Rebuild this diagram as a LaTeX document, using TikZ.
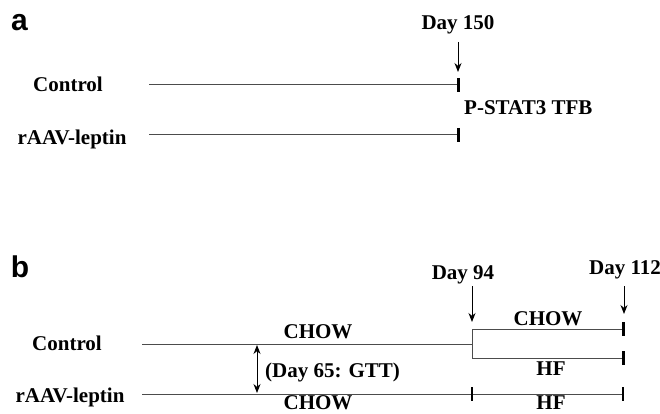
\documentclass[tikz,border=0pt]{standalone}
\usepackage{fontspec}
\setmainfont{Liberation Serif}
\setsansfont{Liberation Sans}
\usetikzlibrary{arrows.meta}
\begin{document}
\begin{tikzpicture}[x=1pt,y=-1pt,line join=round,
	txt/.style={font=\fontsize{21}{24}\selectfont\bfseries,inner sep=0pt,anchor=base},
	panel/.style={font=\fontsize{30}{30}\selectfont\sffamily\bfseries,inner sep=0pt},
	tline/.style={line width=1pt,black!70},
	tickmark/.style={line width=3pt},
	thintick/.style={line width=1.3pt},
	arr/.style={-{Stealth[length=9pt,width=7pt]},line width=.9pt},
	dblarr/.style={{Stealth[length=9pt,width=7pt]}-{Stealth[length=9pt,width=7pt]},line width=.9pt}]
	\useasboundingbox (0,0) rectangle (660,414);
	% panel a
	\node[panel] (a) at (19.5,22.5) {a};
	\path (149,85) coordinate (cs) (458,85) coordinate (ce)
	(149,135) coordinate (ls) (458,135) coordinate (le)
	(458,42) coordinate (d150top) (458,72) coordinate (d150tip);
	\node[txt] (ctrla) at (68,92) {Control};
	\node[txt] (raava) at (72,145) {rAAV-leptin};
	\node[txt] (day150) at (458,30) {Day 150};
	\node[txt,anchor=base west] (pstat) at (464,115) {P-STAT3 TFB};
	\draw[tline] (cs)--(ce) (ls)--(le);
	\foreach \p in {ce,le}
	\draw[tickmark] (\p) ++(0,-7)--++(0,14);
	\draw[arr] (d150top)--(d150tip);
	% panel b
	\node[panel] (b) at (20,266.5) {b};
	\path (142,344) coordinate (bcs) (472,344) coordinate (bcm)
	(472,329) coordinate (bup) (623,329) coordinate (bupe)
	(472,358) coordinate (bdn) (623,358) coordinate (bdne)
	(142,394) coordinate (bls) (472,394) coordinate (blm) (623,394) coordinate (ble);
	\path (472,286) coordinate (d94top) (472,322) coordinate (d94tip)
	(624,286) coordinate (d112top) (624,314) coordinate (d112tip)
	(257,345) coordinate (gtttop) (257,393) coordinate (gttbot);
	\node[txt] (ctrlb) at (67,350) {Control};
	\node[txt] (raavb) at (70,402) {rAAV-leptin};
	\node[txt] (day94) at (463,279) {Day 94};
	\node[txt] (day112) at (625,274) {Day 112};
	\node[txt] (chowc) at (318,338) {CHOW};
	\node[txt] (chowl) at (318,409) {CHOW};
	\node[txt,anchor=base west] (gtt) at (265,377) {(Day 65: GTT)};
	\node[txt] (chowup) at (548,325) {CHOW};
	\node[txt] (hfdn) at (551,375) {HF};
	\node[txt] (hfl) at (551,409) {HF};
	\draw[tline] (bcs)--(bcm) (bup)--(bdn) (bup)--(bupe) (bdn)--(bdne) (bls)--(ble);
	\foreach \p in {bupe,bdne}
	\draw[tickmark] (\p) ++(0,-7)--++(0,14);
	\foreach \p in {blm,ble}
	\draw[thintick] (\p) ++(0,-7)--++(0,14);
	\draw[arr] (d94top)--(d94tip);
	\draw[arr] (d112top)--(d112tip);
	\draw[dblarr] (gtttop)--(gttbot);
\end{tikzpicture}
\end{document}
